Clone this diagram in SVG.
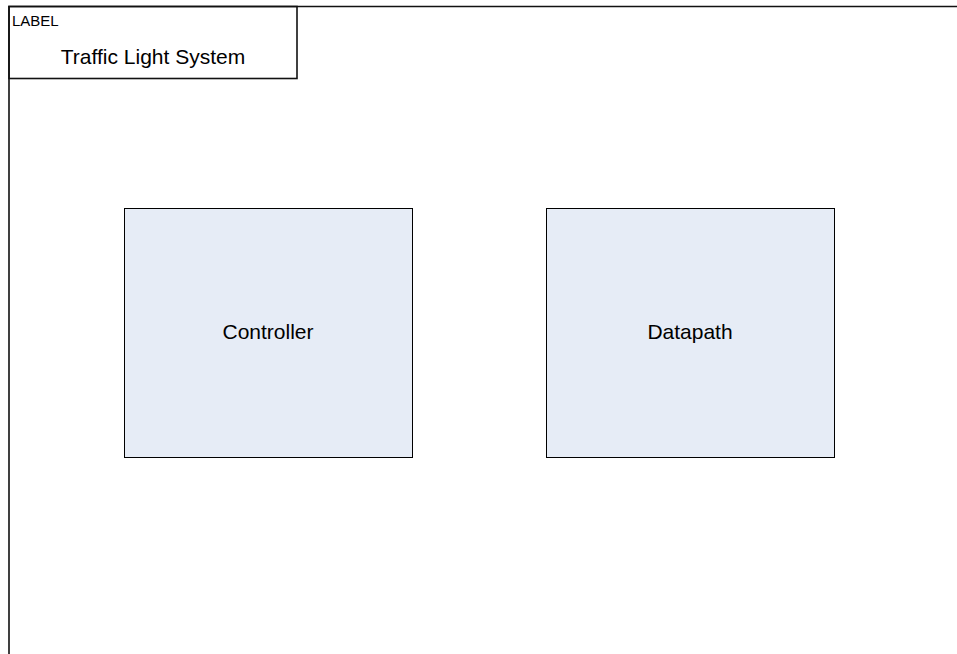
<svg xmlns="http://www.w3.org/2000/svg" width="957" height="654" viewBox="0 0 957 654">
<style>
.frame{fill:none;stroke:#111;stroke-width:1.6}
.blk{fill:#E6ECF6;stroke:#000;stroke-width:1}
text{font-family:"Liberation Sans",Arial,sans-serif;fill:#000}
.big{font-size:21px;text-anchor:middle}
.small{font-size:15px}
</style>
<rect width="957" height="654" fill="#fff"/>
<g id="frame">
<polyline class="frame" points="9,654 9,6.5 957,6.5" stroke="#333"/>
</g>
<g id="label">
<rect class="frame" x="9" y="6.5" width="288" height="72" fill="#fff"/>
<text class="small" x="12" y="26">LABEL</text>
<text class="big" x="153" y="64">Traffic Light System</text>
</g>
<g id="controller">
<rect class="blk" x="124.5" y="208.5" width="288" height="249"/>
<text class="big" x="268" y="339">Controller</text>
</g>
<g id="datapath">
<rect class="blk" x="546.5" y="208.5" width="288" height="249"/>
<text class="big" x="690" y="339">Datapath</text>
</g>
<g id="connectors"></g>
</svg>
